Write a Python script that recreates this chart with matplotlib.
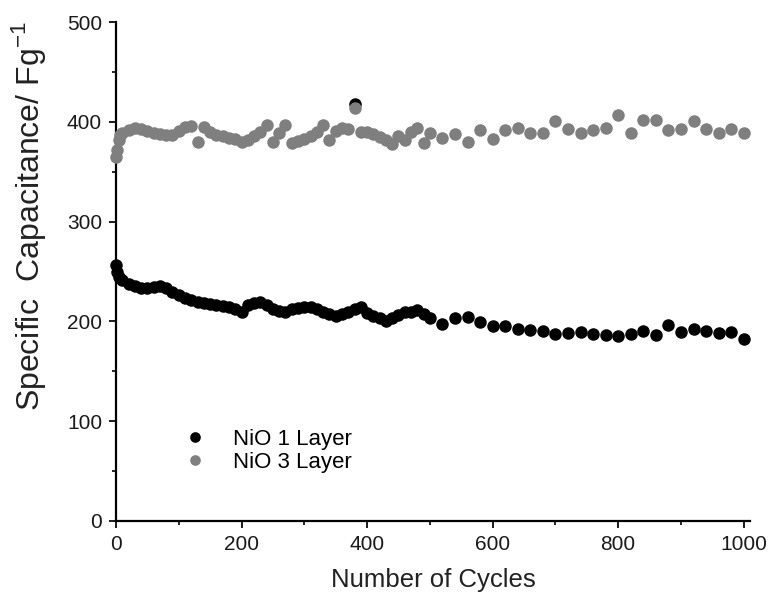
import matplotlib
matplotlib.use("Agg")
import matplotlib.pyplot as plt
from matplotlib.ticker import MultipleLocator

plt.rcParams['font.family'] = ['Liberation Sans', 'DejaVu Sans']

# NiO 1 Layer (black) - dense up to ~500 cycles, then every 20 cycles
cycles_1 = [0, 2, 5, 10, 20, 30, 40, 50, 60, 70, 80, 90, 100, 110, 120, 130, 140,
            150, 160, 170, 180, 190, 200, 210, 220, 230, 240, 250, 260, 270, 280,
            290, 300, 310, 320, 330, 340, 350, 360, 370, 380, 390, 400, 410, 420,
            430, 440, 450, 460, 470, 480, 490,
            500, 520, 540, 560, 580, 600, 620, 640, 660, 680, 700, 720, 740, 760,
            780, 800, 820, 840, 860, 880, 900, 920, 940, 960, 980, 1000,
            380]
cap_1 = [257, 250, 244, 241, 237, 235, 233, 233, 234, 235, 233, 229, 226, 223,
         221, 219, 218, 217, 216, 215, 214, 212, 209, 216, 218, 219, 216, 212,
         210, 209, 212, 213, 214, 214, 212, 209, 207, 205, 207, 209, 212, 214,
         208, 205, 203, 200, 203, 206, 209, 209, 211, 207,
         203, 197, 203, 204, 199, 195, 195, 192.5, 191.5, 190, 187.5, 188.5,
         189, 187, 186, 185, 187, 190, 186, 196, 189, 192, 190, 188.5, 189, 182.5,
         418]

# NiO 3 Layer (grey)
cycles_3 = [0, 2, 4, 6, 10, 20, 30, 40, 50, 60, 70, 80, 90, 100, 110, 120, 130,
            140, 150, 160, 170, 180, 190, 200, 210, 220, 230, 240, 250, 260, 270,
            280, 290, 300, 310, 320, 330, 340, 350, 360, 370, 380, 390, 400, 410,
            420, 430, 440, 450, 460, 470, 480, 490,
            500, 520, 540, 560, 580, 600, 620, 640, 660, 680, 700, 720, 740, 760,
            780, 800, 820, 840, 860, 880, 900, 920, 940, 960, 980, 1000]
cap_3 = [365, 372, 382, 387, 389, 392, 394, 393, 391, 389, 388, 387, 387, 391,
         395, 396, 380, 395, 390, 387, 386, 384, 383, 380, 382, 386, 390, 397,
         380, 389, 397, 379, 381, 383, 386, 390, 397, 382, 391, 394, 393, 414,
         390, 390, 388, 385, 382, 378, 386, 382, 390, 394, 379,
         389, 383.5, 388, 380, 392, 383, 392, 393.4, 388.5, 388.5, 400.7, 393,
         388.5, 392, 393.4, 406.6, 388.5, 402, 402, 392, 393, 400.7, 393, 388.5,
         393, 388.5]

fig = plt.figure(figsize=(7.69, 6.05), dpi=100)
ax = fig.add_axes([116 / 769, 84 / 605, 634 / 769, 499 / 605])

ax.plot(cycles_1, cap_1, 'o', ls='none', color='black', markersize=9,
        markeredgewidth=0, label='NiO 1 Layer', clip_on=False, zorder=3)
ax.plot(cycles_3, cap_3, 'o', ls='none', color='#7f7f7f', markersize=9,
        markeredgewidth=0, label='NiO 3 Layer', clip_on=False, zorder=4)

ax.set_xlim(0, 1010)
ax.set_ylim(0, 500)
ax.xaxis.set_major_locator(MultipleLocator(200))
ax.xaxis.set_minor_locator(MultipleLocator(100))
ax.yaxis.set_major_locator(MultipleLocator(100))
ax.yaxis.set_minor_locator(MultipleLocator(50))

for s in ['top', 'right']:
    ax.spines[s].set_visible(False)
for s in ['left', 'bottom']:
    ax.spines[s].set_linewidth(1.6)
ax.tick_params(which='major', direction='out', length=5, width=1.4,
               labelsize=15, colors='#1a1a1a', pad=5)
ax.tick_params(which='minor', direction='out', length=3, width=1.2)

ax.set_xlabel('Number of Cycles', fontsize=18.5, color='#222222')
ax.xaxis.set_label_coords(0.5, -0.095)
ax.set_ylabel('Specific  Capacitance/ Fg$^{\\mathregular{-1}}$', fontsize=23,
              color='#222222')
ax.yaxis.set_label_coords(-0.108, 0.61)

ax.legend(loc='center left', bbox_to_anchor=(0.09, 0.14), frameon=False,
          fontsize=16, handlelength=1.0, handletextpad=1.2, borderpad=0,
          labelspacing=0.1, numpoints=1, markerscale=0.85)

fig.savefig('out.png', dpi=100)
